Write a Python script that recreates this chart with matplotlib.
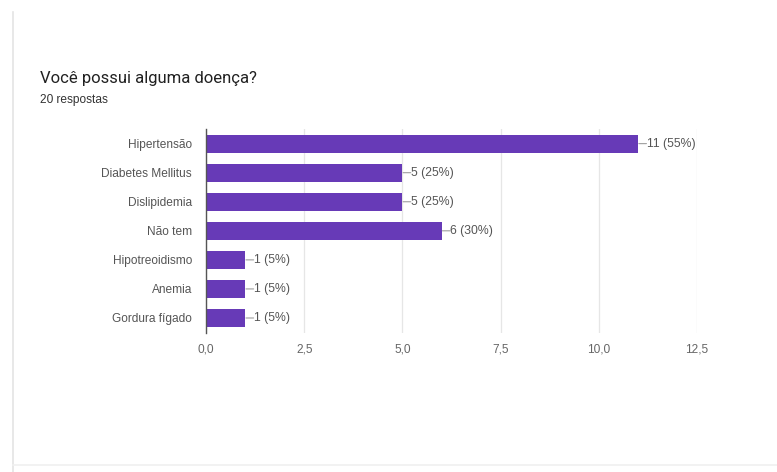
import matplotlib.pyplot as plt
from matplotlib.ticker import FuncFormatter

# Data
categories = ["Hipertensão", "Diabetes Mellitus", "Dislipidemia", "Não tem",
              "Hipotreoidismo", "Anemia", "Gordura fígado"]
counts = [11, 5, 5, 6, 1, 1, 1]
percents = [55, 25, 25, 30, 5, 5, 5]
xticks = [0, 2.5, 5, 7.5, 10, 12.5]
title = "Você possui alguma doença?"
subtitle = "20 respostas"

plt.rcParams["font.family"] = ["Liberation Sans", "DejaVu Sans"]

fig = plt.figure(figsize=(7.77, 4.72), dpi=100)
fig.patch.set_facecolor("white")

# card border on the left and bottom
fig.add_artist(plt.Line2D([0.017, 0.017], [0.0, 0.975], color="#e4e4e4", lw=1.2))
fig.add_artist(plt.Line2D([0.017, 1.0], [0.015, 0.015], color="#f0f0f0", lw=1.2))

ax = fig.add_axes([0.2651, 0.2955, 0.632, 0.431])
y = list(range(len(categories)))
ax.barh(y, counts, height=0.62, color="#673ab7", zorder=3)

for yi, c, p in zip(y, counts, percents):
    ax.annotate("", xy=(c, yi), xytext=(6.0, 0), textcoords="offset points",
                arrowprops=dict(arrowstyle="-", color="#9e9e9e", lw=0.8,
                                shrinkA=0, shrinkB=0.5))
    ax.annotate(f"{c} ({p}%)", xy=(c, yi), xytext=(6.3, 0),
                textcoords="offset points", va="center", ha="left",
                fontsize=8.8, color="#555555")

ax.set_xlim(0, 12.5)
ax.set_ylim(6.5, -0.5)
ax.set_yticks(y)
ax.set_yticklabels(categories, fontsize=8.6, color="#555555")
ax.set_xticks(xticks)
ax.xaxis.set_major_formatter(FuncFormatter(lambda v, pos: f"{v:.1f}".replace(".", ",")))
ax.tick_params(axis="x", labelsize=8.6, colors="#666666", length=0, pad=8)
ax.tick_params(axis="y", length=0, pad=10)
ax.grid(axis="x", color="#e6e6e6", lw=0.9, zorder=0)
for s in ["top", "right", "bottom"]:
    ax.spines[s].set_visible(False)
ax.spines["left"].set_color("#555555")
ax.spines["left"].set_linewidth(1.0)
ax.spines["left"].set_zorder(4)

fig.text(40 / 777, 1 - 78 / 472, title, fontsize=12, color="#212121",
         va="center", ha="left", family=["Roboto", "DejaVu Sans"])
fig.text(40 / 777, 1 - 100 / 472, subtitle, fontsize=8.6, color="#333333", va="center", ha="left")

plt.savefig("out.png", dpi=100, facecolor="white")
